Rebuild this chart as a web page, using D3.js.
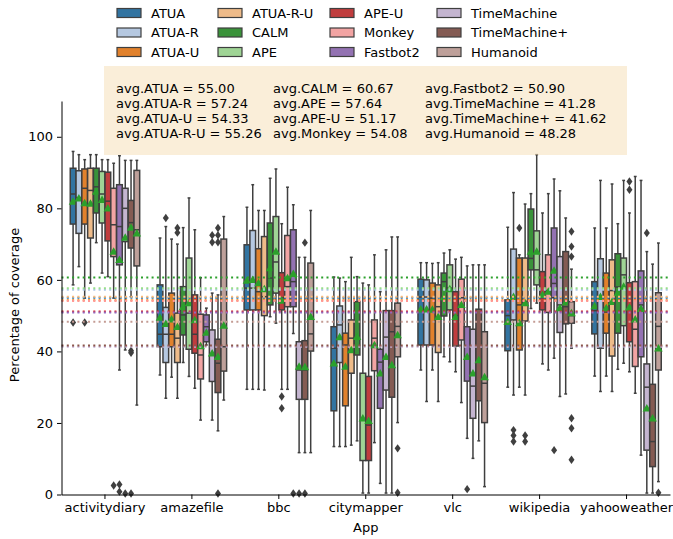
<!DOCTYPE html>
<html lang="en">
<head>
<meta charset="UTF-8" />
<title>Coverage per app</title>
<style>
  body { margin: 0; background: #fff; }
  svg text { font-family: "DejaVu Sans", sans-serif; fill: #000; }
</style>
</head>
<body>
<svg id="svg" width="673" height="539"></svg>
<script src="https://d3js.org/d3.v7.min.js"></script>
<script>
// apps on the x axis, tools in hue order
const apps = ['activitydiary', 'amazefile', 'bbc', 'citymapper', 'vlc', 'wikipedia', 'yahooweather'];
const methods = ['ATUA', 'ATUA-R', 'ATUA-U', 'ATUA-R-U', 'CALM', 'APE', 'APE-U', 'Monkey', 'Fastbot2', 'TimeMachine', 'TimeMachine+', 'Humanoid'];
const boxColors = ['#3274a1', '#b5c8e1', '#e1812c', '#eebb89', '#3a923a', '#9fd495', '#c03d3e', '#f2a4a3', '#9372b2', '#c4b5d0', '#845b53', '#bea09a'];
const lineColors = ['#1f77b4', '#aec7e8', '#ff7f0e', '#ffbb78', '#2ca02c', '#98df8a', '#d62728', '#ff9896', '#9467bd', '#c5b0d5', '#8c564b', '#c49c94'];
const averages = [55.00, 57.24, 54.33, 55.26, 60.67, 57.64, 51.17, 54.08, 50.90, 41.28, 41.62, 48.28];
const yTicks = [0, 20, 40, 60, 80, 100];

// one row per app, one column per method
const whiskerLow = [
  [58.6, 63.7, 54.9, 59.1, 70.4, 61.9, 60.9, 54.9, 34.8, 40.4, 55.3, 25.0],
  [33.4, 26.9, 32.8, 26.9, 36.9, 33.0, 29.7, 20.8, 41.8, 20.8, 17.8, 26.4],
  [29.4, 29.4, 29.4, 29.2, 49.7, 47.9, 29.4, 29.4, 45.0, 11.7, 11.7, 11.7],
  [13.4, 13.4, 13.4, 13.8, 15.0, 0.4, 0.4, 14.5, 3.1, 0.4, 0.4, 20.1],
  [34.8, 26.0, 34.8, 26.0, 38.5, 37.1, 34.3, 25.7, 15.7, 10.1, 15.0, 2.2],
  [30.0, 27.8, 30.0, 27.8, 52.0, 53.5, 36.5, 34.8, 38.1, 27.4, 28.1, 40.9],
  [33.1, 28.8, 33.1, 28.8, 35.0, 36.7, 34.3, 28.3, 11.0, 0.4, 0.4, 3.6]
];
const q1 = [
  [75.6, 73.0, 75.6, 71.7, 78.7, 75.9, 70.9, 66.5, 64.2, 70.7, 68.9, 63.9],
  [41.3, 36.9, 41.3, 36.9, 44.6, 40.6, 39.5, 32.3, 42.7, 31.6, 28.5, 34.5],
  [51.6, 51.6, 51.6, 50.0, 53.0, 56.3, 51.6, 52.5, 52.5, 26.6, 26.6, 40.1],
  [23.4, 36.9, 24.8, 33.9, 39.0, 9.5, 9.5, 34.6, 24.1, 29.2, 27.2, 38.5],
  [41.8, 41.8, 41.8, 39.7, 49.9, 51.6, 41.5, 43.2, 31.7, 21.3, 26.2, 20.1],
  [40.2, 48.8, 40.4, 48.5, 62.8, 58.6, 51.6, 50.9, 55.0, 45.3, 47.7, 47.9],
  [44.9, 40.9, 45.1, 38.7, 45.1, 47.2, 42.7, 35.8, 38.5, 12.4, 7.8, 34.8]
];
const median = [
  [84.0, 83.0, 85.6, 85.0, 86.0, 84.0, 82.0, 75.4, 74.9, 80.0, 76.0, 74.0],
  [44.8, 44.8, 44.8, 43.7, 50.2, 50.7, 44.8, 39.0, 46.9, 39.0, 36.7, 41.3],
  [57.7, 57.7, 56.7, 55.3, 60.5, 65.0, 55.0, 58.1, 59.5, 34.8, 34.8, 44.9],
  [40.9, 47.4, 41.8, 43.7, 43.7, 20.8, 19.4, 43.7, 37.0, 44.0, 45.5, 47.0],
  [55.2, 55.2, 54.9, 52.5, 59.5, 57.7, 50.0, 55.0, 38.0, 30.3, 37.5, 31.1],
  [50.0, 55.0, 53.0, 54.0, 66.0, 62.8, 55.0, 57.0, 59.0, 53.0, 52.5, 50.0],
  [51.4, 55.0, 51.0, 57.0, 58.0, 61.4, 52.0, 46.2, 53.0, 30.0, 14.8, 47.0]
];
const q3 = [
  [91.2, 90.5, 91.0, 91.2, 91.2, 90.3, 90.1, 85.6, 86.6, 85.6, 82.2, 90.6],
  [58.6, 52.3, 56.3, 50.7, 58.1, 66.1, 55.8, 50.4, 50.2, 46.0, 43.4, 71.4],
  [69.8, 73.8, 68.7, 72.1, 75.9, 77.7, 62.0, 72.4, 74.0, 42.7, 43.0, 64.7],
  [46.9, 52.7, 45.1, 48.8, 53.9, 33.9, 33.0, 48.8, 40.6, 51.4, 51.4, 53.5],
  [60.2, 60.0, 59.1, 58.6, 61.9, 64.2, 56.7, 60.2, 46.9, 46.2, 51.8, 45.5],
  [54.4, 68.6, 66.1, 66.1, 79.8, 73.7, 62.3, 67.0, 74.5, 66.5, 67.9, 53.9],
  [59.5, 65.9, 61.9, 65.6, 67.3, 66.1, 59.2, 59.5, 62.5, 36.5, 30.8, 56.4]
];
const whiskerHigh = [
  [95.9, 95.0, 93.6, 95.0, 95.0, 93.6, 93.6, 92.6, 94.7, 93.4, 93.4, 93.4],
  [71.7, 74.9, 71.4, 70.0, 74.6, 82.9, 74.0, 60.6, 52.1, 56.3, 55.8, 77.7],
  [80.3, 86.6, 79.4, 79.4, 88.4, 91.0, 75.7, 85.9, 81.0, 66.3, 66.3, 79.4],
  [60.8, 60.5, 59.5, 66.3, 60.9, 59.1, 58.6, 67.0, 56.7, 68.4, 72.0, 72.0],
  [64.8, 64.8, 64.6, 64.8, 67.5, 68.4, 65.8, 66.3, 63.9, 64.2, 64.2, 64.2],
  [74.7, 84.4, 67.0, 81.2, 84.1, 95.0, 78.7, 84.1, 88.2, 84.9, 77.3, 63.0],
  [74.5, 87.8, 74.5, 86.8, 75.7, 87.8, 78.7, 88.9, 87.8, 67.9, 64.4, 70.3]
];
const means = [
  [81.9, 82.8, 81.5, 81.3, 84.7, 82.4, 80.0, 67.9, 65.6, 71.8, 74.6, 73.0],
  [49.5, 47.7, 49.0, 46.9, 52.5, 53.5, 48.8, 41.5, 45.3, 39.5, 38.5, 47.2],
  [59.8, 60.0, 59.1, 57.4, 63.3, 67.9, 54.2, 60.5, 61.7, 35.8, 35.6, 49.7],
  [36.7, 44.0, 35.8, 40.4, 44.1, 21.3, 20.6, 41.8, 33.9, 38.5, 36.2, 44.6],
  [51.8, 51.8, 51.7, 49.7, 55.2, 57.4, 49.7, 53.0, 38.5, 33.9, 37.6, 32.8],
  [48.3, 55.3, 47.9, 53.5, 67.9, 67.9, 55.8, 56.7, 62.6, 52.1, 53.7, 50.7],
  [52.7, 55.3, 52.1, 53.9, 56.4, 58.1, 52.3, 49.0, 51.9, 24.1, 21.3, 40.9]
];
const outliers = [
  [[48.1], [], [48.1], [], [], [], [], [2.5], [2.8, 0.8], [0.3], [40.2, 39.6, 0.3], []],
  [[], [77.3], [], [74.5, 73.2], [], [], [], [], [], [72.5, 70.5], [74.5, 72.5, 70.5, 0.3], []],
  [[], [], [], [], [], [], [27.4, 24.1], [], [0.3], [0.3], [70.4, 0.3], []],
  [[], [], [], [], [], [], [], [], [], [], [], [12.9, 0.5]],
  [[], [], [], [], [], [], [], [], [1.5], [], [], []],
  [[], [18.0, 16.5, 14.8], [74.5], [16.5, 14.8], [], [], [], [], [12.4], [], [], [73.5, 69.3, 66.5, 21.3, 18.5, 9.7]],
  [[], [], [], [], [], [], [87.5, 85.2], [], [], [73.1], [], [0.5]]
];

const svg = d3.select('#svg');
const plotLeft = 61.5, plotRight = 670, plotTop = 101, plotBottom = 494.5;
const gray = '#3f3f3f';
const fs = '13px';

const x = d3.scaleBand().domain(apps).range([plotLeft, plotRight]);
const y = d3.scaleLinear().domain([0, 110]).range([plotBottom, plotTop]);
const xm = d3.scaleBand().domain(methods)
  .range([x.bandwidth() * 0.1, x.bandwidth() * 0.9]);
const bw = xm.bandwidth() * 0.98;

// flatten into one record per box
const boxes = [];
apps.forEach((app, a) => {
  methods.forEach((m, i) => {
    boxes.push({
      app, m, i,
      lo: whiskerLow[a][i], q1: q1[a][i], med: median[a][i], q3: q3[a][i],
      hi: whiskerHigh[a][i], mean: means[a][i], out: outliers[a][i],
      cx: x(app) + xm(m) + xm.bandwidth() / 2
    });
  });
});

const g = svg.append('g');

const bg = g.selectAll('g.box').data(boxes).enter().append('g').attr('class', 'box');
// whiskers
bg.append('line')
  .attr('x1', d => d.cx).attr('x2', d => d.cx)
  .attr('y1', d => y(d.q3)).attr('y2', d => y(d.hi))
  .attr('stroke', gray).attr('stroke-width', 1.5);
bg.append('line')
  .attr('x1', d => d.cx).attr('x2', d => d.cx)
  .attr('y1', d => y(d.q1)).attr('y2', d => y(d.lo))
  .attr('stroke', gray).attr('stroke-width', 1.5);
// caps
bg.append('line')
  .attr('x1', d => d.cx - bw / 4).attr('x2', d => d.cx + bw / 4)
  .attr('y1', d => y(d.hi)).attr('y2', d => y(d.hi))
  .attr('stroke', gray).attr('stroke-width', 1.5);
bg.append('line')
  .attr('x1', d => d.cx - bw / 4).attr('x2', d => d.cx + bw / 4)
  .attr('y1', d => y(d.lo)).attr('y2', d => y(d.lo))
  .attr('stroke', gray).attr('stroke-width', 1.5);
// box
bg.append('rect')
  .attr('x', d => d.cx - bw / 2)
  .attr('y', d => y(d.q3))
  .attr('width', bw)
  .attr('height', d => y(d.q1) - y(d.q3))
  .attr('fill', d => boxColors[d.i])
  .attr('stroke', gray).attr('stroke-width', 1.5);
// median
bg.append('line')
  .attr('x1', d => d.cx - bw / 2).attr('x2', d => d.cx + bw / 2)
  .attr('y1', d => y(d.med)).attr('y2', d => y(d.med))
  .attr('stroke', gray).attr('stroke-width', 1.5);
// outliers (thin diamonds)
bg.selectAll('path.out').data(d => d.out.map(v => ({ v, cx: d.cx }))).enter()
  .append('path').attr('class', 'out')
  .attr('d', d => `M${d.cx},${y(d.v) - 4.2}L${d.cx + 3},${y(d.v)}L${d.cx},${y(d.v) + 4.2}L${d.cx - 3},${y(d.v)}Z`)
  .attr('fill', gray);
// means (green triangles)
bg.append('path')
  .attr('d', d => {
    const yy = y(d.mean);
    return `M${d.cx},${yy - 4.3}L${d.cx + 4.3},${yy + 3.2}L${d.cx - 4.3},${yy + 3.2}Z`;
  })
  .attr('fill', '#2ca02c');

// dotted average lines
g.selectAll('line.avg').data(averages).enter().append('line')
  .attr('class', 'avg')
  .attr('x1', plotLeft).attr('x2', plotRight)
  .attr('y1', d => y(d)).attr('y2', d => y(d))
  .attr('stroke', (d, i) => lineColors[i])
  .attr('stroke-width', 2)
  .attr('stroke-dasharray', '2,3.3');

// axes
const yAxis = d3.axisLeft(y).tickValues(yTicks).tickSize(4.5).tickSizeOuter(0).tickPadding(4);
const xAxis = d3.axisBottom(x).tickSize(4.5).tickSizeOuter(0).tickPadding(4);
const ya = svg.append('g').attr('transform', `translate(${plotLeft},0)`).call(yAxis);
const xa = svg.append('g').attr('transform', `translate(0,${plotBottom})`).call(xAxis);
[ya, xa].forEach(a => {
  a.selectAll('path, line').attr('stroke', '#000').attr('stroke-width', 1);
  a.selectAll('text').style('font-size', fs).style('font-family', 'DejaVu Sans');
});

svg.append('text')
  .attr('transform', `translate(19,305) rotate(-90)`)
  .attr('text-anchor', 'middle')
  .style('font-size', fs)
  .text('Percentage of coverage');
svg.append('text')
  .attr('x', (plotLeft + plotRight) / 2).attr('y', 532)
  .attr('text-anchor', 'middle')
  .style('font-size', fs)
  .text('App');

// averages text box
svg.append('rect')
  .attr('x', 104).attr('y', 66).attr('width', 523).attr('height', 89)
  .attr('fill', '#f5deb3').attr('fill-opacity', 0.5);
const colX = [116, 273, 425];
averages.forEach((v, i) => {
  svg.append('text')
    .attr('x', colX[Math.floor(i / 4)])
    .attr('y', 93 + (i % 4) * 15)
    .style('font-size', fs)
    .text(`avg.${methods[i]} = ${v.toFixed(2)}`);
});

// legend, 4 columns x 3 rows
const legX = [117, 218, 330, 437];
const legY = [13, 32.5, 52];
const leg = svg.selectAll('g.leg').data(methods).enter().append('g')
  .attr('transform', (d, i) => `translate(${legX[Math.floor(i / 3)]},${legY[i % 3]})`);
leg.append('rect')
  .attr('x', 0).attr('y', -4.5).attr('width', 24).attr('height', 9)
  .attr('fill', (d, i) => boxColors[i])
  .attr('stroke', gray).attr('stroke-width', 1.2);
leg.append('text')
  .attr('x', 34).attr('y', 4.7)
  .style('font-size', fs)
  .text(d => d);
</script>
</body>
</html>
